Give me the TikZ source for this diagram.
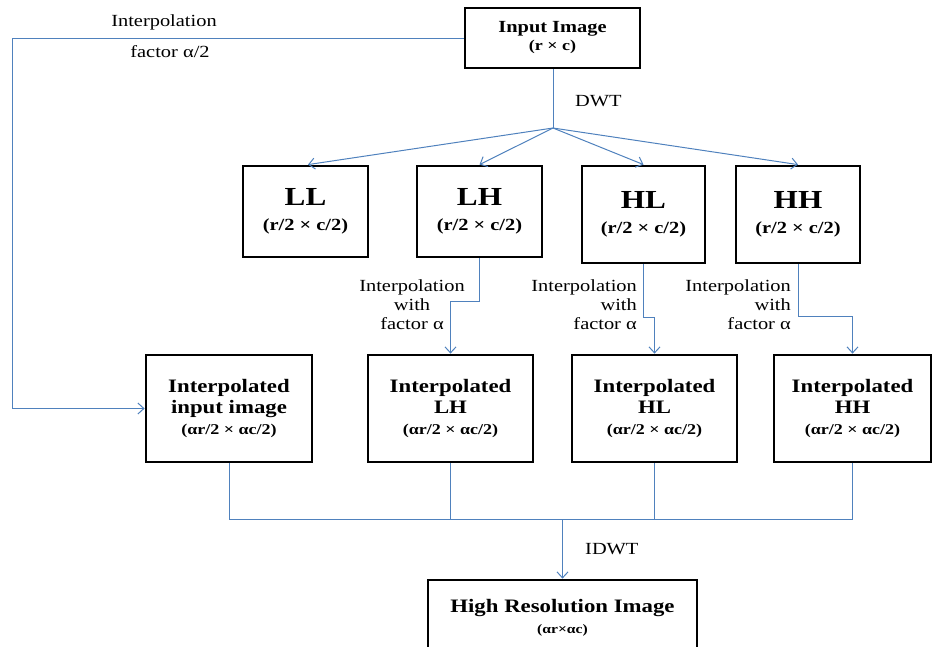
\documentclass[tikz,border=0pt]{standalone}
\usepackage{fontspec}
\setmainfont{Liberation Serif}[FakeStretch=1.2]
\usetikzlibrary{arrows.meta}
\definecolor{lineblue}{RGB}{79,129,189}
\newcommand\myfs[2]{\fontsize{#1}{#2}\selectfont}
\begin{document}
\begin{tikzpicture}[x=1pt,y=-1pt,
  box/.style={draw=black,line width=2.8pt,fill=white,inner sep=0pt,align=center},
  conn/.style={draw=lineblue,line width=1pt},
  arr/.style={conn,-{Straight Barb[length=6pt,width=11pt,line width=1pt]}},
  lbl/.style={font=\myfs{17}{19},inner sep=0pt},
  subbox/.style={box,minimum width=125pt,minimum height=91pt,font=\myfs{17}{25}\bfseries},
  intbox/.style={box,minimum width=165pt,minimum height=107pt,font=\myfs{19}{21}\bfseries}]
\useasboundingbox (0,0) rectangle (933,646);
\clip (0,0) rectangle (933,646);
% boxes
\node[box,minimum width=175pt,minimum height=60pt,font=\myfs{15}{18}\bfseries] (in) at (552.5,38)
  {{\myfs{17}{18}Input Image}\\(r × c)};
\node[subbox] (LL) at (305.5,211.5) {{\myfs{26}{25}LL}\\(r/2 × c/2)};
\node[subbox] (LH) at (479.5,211.5) {{\myfs{26}{25}LH}\\(r/2 × c/2)};
\node[subbox,minimum width=123pt,minimum height=97pt] (HL) at (643.5,214.5) {{\myfs{26}{25}HL}\\(r/2 × c/2)};
\node[subbox,minimum width=124pt,minimum height=97pt] (HH) at (798,214.5) {{\myfs{26}{25}HH}\\(r/2 × c/2)};
\node[intbox,minimum width=166pt] (IntIn) at (229,408.5)
  {Interpolated\\input image\\{\myfs{15}{21}(αr/2 × αc/2)}};
\node[intbox] (IntLH) at (450.5,408.5)
  {Interpolated\\LH\\{\myfs{15}{21}(αr/2 × αc/2)}};
\node[intbox] (IntHL) at (654.5,408.5)
  {Interpolated\\HL\\{\myfs{15}{21}(αr/2 × αc/2)}};
\node[intbox,minimum width=157pt] (IntHH) at (852.5,408.5)
  {Interpolated\\HH\\{\myfs{15}{21}(αr/2 × αc/2)}};
\node[box,minimum width=269pt,minimum height=110pt] (hr) at (562.5,635) {};
\node[inner sep=0pt,align=center,font=\myfs{19}{21}\bfseries] (hrtext) at (562.5,618)
  {High Resolution Image\\{\myfs{13}{21}(αr×αc)}};
% DWT split
\coordinate (dwt) at (553,128);
\draw[conn] (in.south -| dwt) -- (dwt);
\node[lbl,anchor=west] (dwtl) at (575,101) {DWT};
\draw[arr] (dwt) -- (LL.north -| 308,0);
\draw[arr] (dwt) -- (LH.north);
\draw[arr] (dwt) -- (HL.north);
\draw[arr] (dwt) -- (HH.north);
% interpolation branches
\draw[arr] (LH.south) -- ++(0,43) -| (IntLH.north);
\draw[arr] (HL.south) -- ++(0,53) -| (IntHL.north);
\draw[arr] (HH.south) -- ++(0,52) -| (IntHH.north);
\node[lbl,align=center] (lhl) at (412,305) {Interpolation\\with\\factor α};
\node[lbl,align=right,anchor=east] (hll) at (637,305) {Interpolation\\with\\factor α};
\node[lbl,align=right,anchor=east] (hhl) at (791,305) {Interpolation\\with\\factor α};
% left loop
\coordinate (lc) at (12,38);
\draw[arr] (in.west) -- (lc) |- (IntIn.west);
\node[lbl] (ipl) at (164,22) {Interpolation};
\node[lbl] (fal) at (170,52) {factor α/2};
% merge
\coordinate (j) at (562.5,519);
\draw[conn] (IntIn.south) -- (IntIn.south |- j) -- (IntHH.south |- j) -- (IntHH.south);
\draw[conn] (IntLH.south) -- (IntLH.south |- j);
\draw[conn] (IntHL.south) -- (IntHL.south |- j);
\draw[arr] (j) -- (hr.north);
\node[lbl,anchor=west] (idwt) at (585,549) {IDWT};
\end{tikzpicture}
\end{document}
